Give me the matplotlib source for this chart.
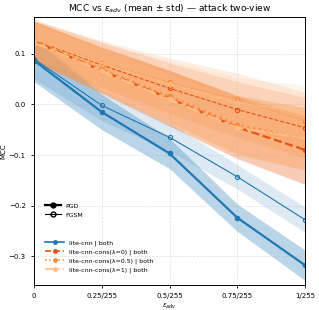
import numpy as np
import matplotlib
matplotlib.use('Agg')
import matplotlib.pyplot as plt
from matplotlib.lines import Line2D

eps = [0, 0.25, 0.5, 0.75, 1.0]
eps_labels = ['0', '0.25/255', '0.5/255', '0.75/255', '1/255']

models = ['lite-cnn | both', 'lite-cnn-cons(λ=0) | both',
          'lite-cnn-cons(λ=0.5) | both', 'lite-cnn-cons(λ=1) | both']
colors = ['#1f77b4', '#e6550d', '#fd8d3c', '#fdbe85']
styles = ['-', '--', ':', '-.']

pgd_mean = [
    [0.087, -0.015, -0.097, -0.224, -0.318],
    [0.125, 0.067, 0.012, -0.045, -0.090],
    [0.124, 0.070, 0.016, -0.040, -0.068],
    [0.122, 0.066, 0.010, -0.046, -0.067],
]
pgd_std = [
    [0.042, 0.035, 0.030, 0.027, 0.030],
    [0.040, 0.045, 0.055, 0.062, 0.068],
    [0.040, 0.045, 0.052, 0.058, 0.062],
    [0.038, 0.044, 0.050, 0.056, 0.060],
]
fgsm_mean = [
    [0.090, -0.002, -0.065, -0.143, -0.228],
    [0.127, 0.078, 0.032, -0.010, -0.046],
    [0.128, 0.082, 0.044, 0.010, -0.032],
    [0.128, 0.081, 0.040, 0.003, -0.016],
]
fgsm_std = [
    [0.040, 0.030, 0.028, 0.024, 0.025],
    [0.040, 0.045, 0.050, 0.055, 0.060],
    [0.040, 0.044, 0.048, 0.052, 0.056],
    [0.038, 0.042, 0.046, 0.050, 0.054],
]

plt.rcParams['font.size'] = 5
fig = plt.figure(figsize=(3.19, 3.10), dpi=100)
ax = fig.add_axes([0.107, 0.081, 0.849, 0.864])

x = np.array(eps)
for i in range(len(models)):
    m = np.array(pgd_mean[i]); s = np.array(pgd_std[i])
    ax.fill_between(x, m - s, m + s, color=colors[i], alpha=0.3, lw=0)
    ax.plot(x, m, ls=styles[i], color=colors[i], lw=1.6, marker='o', ms=3)
    m = np.array(fgsm_mean[i]); s = np.array(fgsm_std[i])
    ax.fill_between(x, m - s, m + s, color=colors[i], alpha=0.15, lw=0)
    ax.plot(x, m, ls=styles[i], color=colors[i], lw=0.8, marker='o', ms=3,
            markerfacecolor='none', markeredgewidth=0.8)

ax.set_xlim(0, 1)
ax.set_ylim(-0.357, 0.173)
ax.set_xticks(eps)
ax.set_xticklabels(eps_labels)
ax.set_yticks([-0.3, -0.2, -0.1, 0.0, 0.1])
ax.tick_params(labelsize=5, length=2.5, width=0.6)
ax.grid(True, ls='--', alpha=0.4, lw=0.5)
for sp in ax.spines.values():
    sp.set_linewidth(0.7)
ax.set_xlabel(r'$\epsilon_{adv}$', fontsize=5, labelpad=2)
ax.set_ylabel('MCC', fontsize=5, labelpad=2)
ax.set_title(r'MCC vs $\epsilon_{adv}$ (mean ± std) — attack two-view', fontsize=6.5, pad=4)

# attack-type legend (line weight / marker fill)
att_handles = [
    Line2D([], [], color='black', lw=1.6, marker='o', ms=3.5),
    Line2D([], [], color='black', lw=0.8, marker='o', ms=3.5, markerfacecolor='none'),
]
leg1 = ax.legend(att_handles, ['PGD', 'FGSM'], loc='lower left',
                 bbox_to_anchor=(0.02, 0.23), frameon=False, fontsize=4.5,
                 handlelength=2.5, labelspacing=0.6)
ax.add_artist(leg1)
mod_handles = [Line2D([], [], color=colors[i], ls=styles[i], lw=1.2, marker='o', ms=2.5)
               for i in range(len(models))]
ax.legend(mod_handles, models, loc='lower left', bbox_to_anchor=(0.02, 0.025),
          frameon=False, fontsize=4.5, handlelength=3, labelspacing=0.5)

fig.savefig('out.png', dpi=100)
